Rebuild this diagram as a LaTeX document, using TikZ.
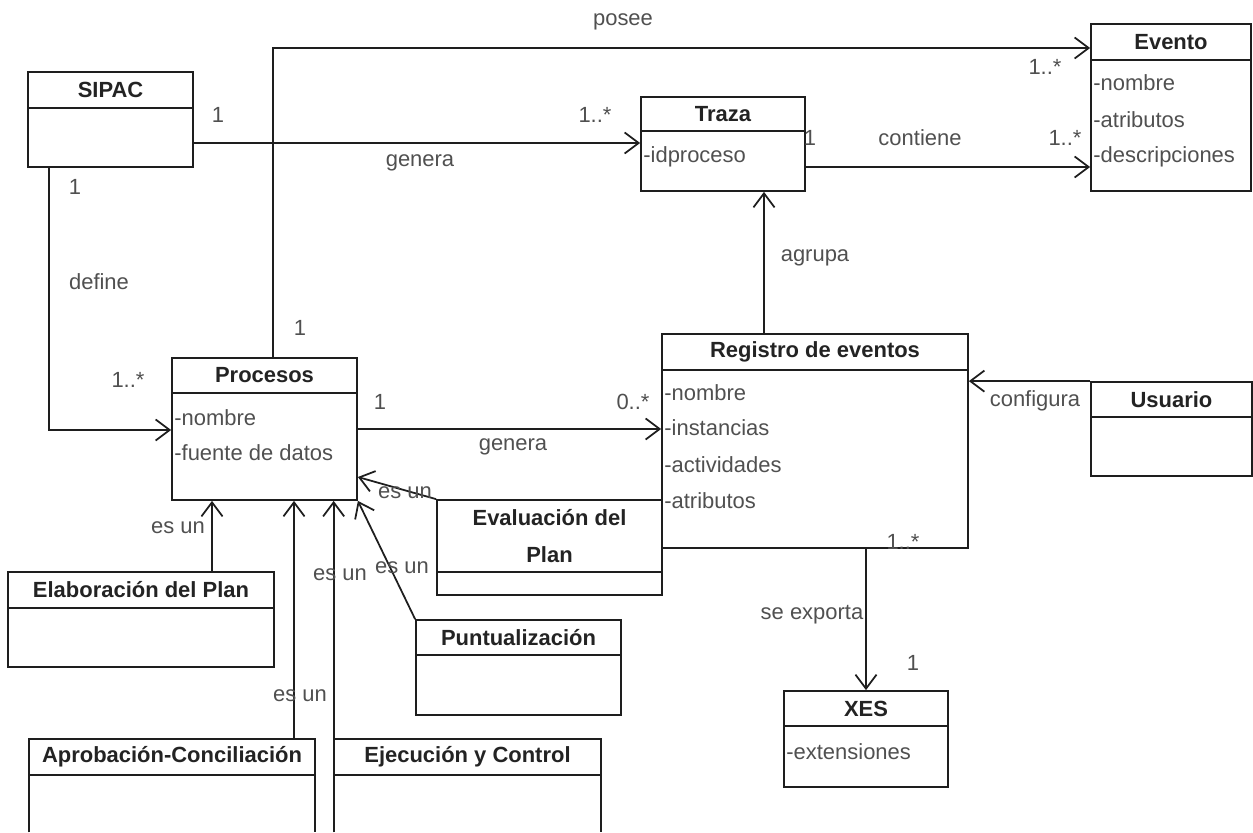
\documentclass[tikz,border=0pt]{standalone}
\usepackage{fontspec}
\setmainfont{Liberation Sans}
\usepackage{tikz}
\usetikzlibrary{arrows.meta,fit,calc}
\definecolor{umlLinea} {RGB}{30,  30,  30}
\definecolor{umlTexto} {RGB}{80,  80,  80}
\definecolor{umlTitulo}{RGB}{35,  35,  35}
% clase: nombre, izq, arriba, der, abajo, separador, titulo
\newcommand{\claseuml}[7]{%
  \node[caja,fit={(#2,#3) (#4,#5)}] (#1) {};
  \draw[linea] (#1.west |- 0,#6) -- (#1.east |- 0,#6);
  \node[titulo] (#1-t) at ({(#2+#4)/2},{(#3+#6)/2}) {#7};}
% clase cortada por el borde inferior
\newcommand{\claseabierta}[7]{%
  \node[fit={(#2,#3) (#4,#5)},inner sep=0pt] (#1) {};
  \draw[linea] (#1.south west) |- (#1.north east) -- (#1.south east);
  \draw[linea] (#1.west |- 0,#6) -- (#1.east |- 0,#6);
  \node[titulo] (#1-t) at ({(#2+#4)/2},{(#3+#6)/2}) {#7};}

\begin{document}
\begin{tikzpicture}[x=0.02cm,y=-0.02cm,
    caja/.style={draw=umlLinea,line width=1pt,inner sep=0pt},
    linea/.style={draw=umlLinea,line width=1pt},
    titulo/.style={font=\bfseries\fontsize{12.5}{14}\selectfont,text=umlTitulo,
                   inner sep=0pt,align=center},
    attr/.style={font=\fontsize{12.5}{14}\selectfont,text=umlTexto,
                 anchor=west,inner sep=0pt},
    etiq/.style={font=\fontsize{12.5}{14}\selectfont,text=umlTexto,inner sep=0pt},
    asoc/.style={linea,-{Straight Barb[length=8pt,width=12pt]}}]
  \useasboundingbox (0,0) rectangle (1253,832);
  % Clases
  \claseuml{sipac}{28}{72}{193}{167}{108}{SIPAC}
  \claseuml{traza}{641}{97}{805}{191}{131}{Traza}
  \claseuml{evento}{1091}{24}{1251}{191}{60}{Evento}
  \claseuml{proc}{172}{358}{357}{500}{393}{Procesos}
  \claseuml{reg}{662}{334}{968}{548}{370}{Registro de eventos}
  \claseuml{usuario}{1091}{382}{1252}{476}{417}{Usuario}
  \claseuml{eval}{437}{500}{662}{595}{572}{Evaluación del\\[7pt]Plan}
  \claseuml{elab}{8}{572}{274}{667}{608}{Elaboración del Plan}
  \claseuml{punt}{416}{620}{621}{715}{655}{Puntualización}
  \claseuml{xes}{784}{691}{948}{787}{726}{XES}
  \claseabierta{aprob}{29}{739}{315}{832}{775}{Aprobación-Conciliación}
  \claseabierta{ejec}{334}{739}{601}{832}{775}{Ejecución y Control}
  % Atributos
  \node[attr] (traza-a1) at (643,157) {-idproceso};
  \node[attr] (evento-a1) at (1093,83) {-nombre};
  \node[attr] (evento-a2) at (1093,120) {-atributos};
  \node[attr] (evento-a3) at (1093,157) {-descripciones};
  \node[attr] (proc-a1) at (174,418) {-nombre};
  \node[attr] (proc-a2) at (174,453) {-fuente de datos};
  \node[attr] (reg-a1) at (664,393) {-nombre};
  \node[attr] (reg-a2) at (664,428) {-instancias};
  \node[attr] (reg-a3) at (664,465) {-actividades};
  \node[attr] (reg-a4) at (664,501) {-atributos};
  \node[attr] (xes-a1) at (786,752) {-extensiones};
  % Asociaciones
  \draw[asoc] (sipac.east |- 0,143) -- (traza.west |- 0,143);
  \draw[asoc] (proc.north -| 273,0) |- (evento.west |- 0,48);
  \draw[asoc] (sipac.south -| 49,0) |- (proc.west |- 0,430);
  \draw[asoc] (proc.east |- 0,429) -- (reg.west |- 0,429);
  \draw[asoc] (traza.east |- 0,167) -- (evento.west |- 0,167);
  \draw[asoc] (reg.north -| 764,0) -- (traza.south -| 764,0);
  \draw[asoc] (usuario.north west) -- (reg.east |- usuario.north west);
  \draw[asoc] (reg.south -| 866,0) -- (xes.north -| 866,0);
  % Generalizaciones
  \draw[asoc] (elab.north -| 212,0) -- (proc.south -| 212,0);
  \draw[asoc] (aprob.north -| 294,0) -- (proc.south -| 294,0);
  \draw[asoc] (ejec.north west) -- (proc.south -| ejec.north west);
  \draw[asoc] (punt.north west) -- (proc.south east);
  \draw[asoc] (eval.north west) -- (proc.east |- 0,477);
  % Etiquetas
  \node[etiq] (l-posee) at (623,22) {posee};
  \node[etiq] (m-sipac1) at (218,115) {1};
  \node[etiq] (m-traza1) at (595,115) {1..*};
  \node[etiq] (l-genera1) at (420,163) {genera};
  \node[etiq] (m-sipac2) at (75,187) {1};
  \node[etiq] (l-define) at (99,282) {define};
  \node[etiq] (m-proc1) at (128,380) {1..*};
  \node[etiq] (m-proc2) at (300,328) {1};
  \node[etiq] (m-evento1) at (1045,67) {1..*};
  \node[etiq] (m-traza2) at (810,138) {1};
  \node[etiq] (l-contiene) at (920,138) {contiene};
  \node[etiq] (m-evento2) at (1065,138) {1..*};
  \node[etiq] (l-agrupa) at (815,258) {agrupa};
  \node[etiq] (m-proc3) at (380,402) {1};
  \node[etiq] (m-reg1) at (633,402) {0..*};
  \node[etiq] (l-genera2) at (513,447) {genera};
  \node[etiq] (l-configura) at (1035,401) {configura};
  \node[etiq] (m-reg2) at (903,542) {1..*};
  \node[etiq] (l-exporta) at (812,615) {se exporta};
  \node[etiq] (m-xes) at (913,663) {1};
  \node[etiq] (l-esun1) at (178,528) {es un};
  \node[etiq] (l-esun2) at (405,493) {es un};
  \node[etiq] (l-esun3) at (340,575) {es un};
  \node[etiq] (l-esun4) at (402,568) {es un};
  \node[etiq] (l-esun5) at (300,696) {es un};
\end{tikzpicture}
\end{document}
